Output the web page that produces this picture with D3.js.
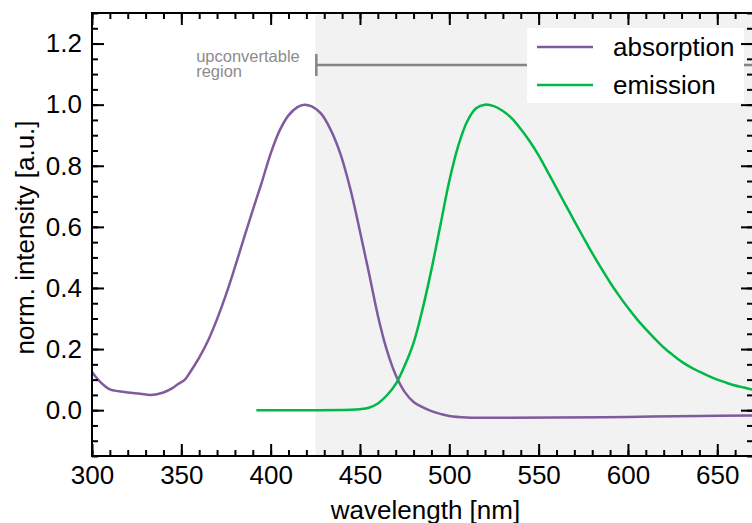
<!DOCTYPE html>
<html>
<head>
<meta charset="utf-8">
<script src="https://cdn.jsdelivr.net/npm/d3@7"></script>
<style>
    body { margin: 0; background: #fff; }
    svg { display: block; font-family: "Liberation Sans", Arial, sans-serif; }
    .axis-label { font-size: 26px; fill: #000; font-family: "Liberation Sans", Arial, sans-serif; }
    .tick text { font-size: 26px; fill: #000; font-family: "Liberation Sans", Arial, sans-serif; }
</style>
</head>
<body>
<div id="chart"></div>
<script>
// absorption spectrum (wavelength nm, normalised intensity)
const absWavelength = [300, 305, 310, 315, 320, 327, 333, 340, 345, 348, 352, 355, 360, 365, 370, 375, 380, 385, 390, 395, 400, 405, 410, 415, 419, 423, 428, 433, 439, 445, 450, 455, 460, 465, 470, 475, 480, 485, 490, 495, 500, 510, 530, 560, 600, 640, 670];
const absIntensity  = [0.125, 0.09, 0.068, 0.062, 0.058, 0.054, 0.05, 0.058, 0.072, 0.085, 0.1, 0.125, 0.172, 0.228, 0.298, 0.378, 0.468, 0.562, 0.655, 0.745, 0.84, 0.915, 0.965, 0.992, 1.0, 0.994, 0.972, 0.925, 0.84, 0.715, 0.585, 0.45, 0.31, 0.197, 0.115, 0.06, 0.027, 0.01, -0.003, -0.012, -0.019, -0.024, -0.025, -0.024, -0.022, -0.019, -0.017];

// emission spectrum
const emWavelength = [392, 420, 445, 450, 455, 460, 465, 470, 475, 480, 485, 490, 495, 500, 505, 510, 515, 520, 525, 530, 535, 540, 545, 550, 555, 560, 565, 570, 575, 580, 585, 590, 595, 600, 605, 610, 615, 620, 625, 630, 635, 640, 645, 650, 655, 660, 665, 670];
const emIntensity  = [0, 0, 0.001, 0.003, 0.008, 0.022, 0.048, 0.085, 0.145, 0.22, 0.33, 0.46, 0.605, 0.75, 0.865, 0.945, 0.988, 1.0, 0.995, 0.979, 0.955, 0.92, 0.88, 0.834, 0.781, 0.727, 0.673, 0.619, 0.566, 0.514, 0.465, 0.418, 0.375, 0.335, 0.298, 0.265, 0.234, 0.205, 0.181, 0.159, 0.141, 0.126, 0.112, 0.1, 0.09, 0.081, 0.074, 0.067];

const seriesNames = ["absorption", "emission"];
const seriesColors = ["#7f5a9e", "#00b845"];

const xTicks = [300, 350, 400, 450, 500, 550, 600, 650];
const yTicks = [0.0, 0.2, 0.4, 0.6, 0.8, 1.0, 1.2];

const upconvStart = 425;     // start of shaded upconvertable region
const bracketLevel = 1.13;

const width = 752;
const height = 523;
const margin = { top: 13, right: -1, bottom: 67, left: 92 };
const innerWidth = width - margin.left - margin.right;
const innerHeight = height - margin.top - margin.bottom;

const svg = d3.select("#chart")
    .append("svg")
    .attr("width", width)
    .attr("height", height);

const innerChart = svg.append("g")
    .attr("transform", `translate(${margin.left},${margin.top})`);

const xScale = d3.scaleLinear().domain([300, 670]).range([0, innerWidth]);
const yScale = d3.scaleLinear().domain([-0.15, 1.3]).range([innerHeight, 0]);

innerChart.append("clipPath")
    .attr("id", "plot-clip")
    .append("rect")
    .attr("width", innerWidth)
    .attr("height", innerHeight);

const plot = innerChart.append("g").attr("clip-path", "url(#plot-clip)");

// shaded region
plot.append("rect")
    .attr("x", xScale(upconvStart))
    .attr("y", 0)
    .attr("width", innerWidth - xScale(upconvStart))
    .attr("height", innerHeight)
    .attr("fill", "#f2f2f2");

// bracket for the upconvertable region
plot.append("line")
    .attr("x1", xScale(upconvStart) + 1)
    .attr("x2", innerWidth)
    .attr("y1", yScale(bracketLevel))
    .attr("y2", yScale(bracketLevel))
    .attr("stroke", "#858585")
    .attr("stroke-width", 2.5);

plot.append("line")
    .attr("x1", xScale(upconvStart) + 1)
    .attr("x2", xScale(upconvStart) + 1)
    .attr("y1", yScale(bracketLevel) - 11)
    .attr("y2", yScale(bracketLevel) + 11)
    .attr("stroke", "#858585")
    .attr("stroke-width", 2.5);

const note = innerChart.append("text")
    .attr("x", xScale(358.3))
    .attr("y", yScale(bracketLevel) - 2.5)
    .attr("fill", "#8c8c8c")
    .style("font-size", "16.5px");
note.append("tspan").text("upconvertable");
note.append("tspan").attr("x", xScale(358.3)).attr("dy", 14.5).text("region");

// spectra
const series = [
    absWavelength.map((w, i) => ({ x: w, y: absIntensity[i] })),
    emWavelength.map((w, i) => ({ x: w, y: emIntensity[i] }))
];

const lineGen = d3.line()
    .x(d => xScale(d.x))
    .y(d => yScale(d.y))
    .curve(d3.curveCatmullRom.alpha(0.5));

plot.selectAll(".spectrum")
    .data(series)
    .join("path")
        .attr("class", "spectrum")
        .attr("d", lineGen)
        .attr("fill", "none")
        .attr("stroke", (d, i) => seriesColors[i])
        .attr("stroke-width", 2.5);

// legend
const legend = innerChart.append("g")
    .attr("transform", `translate(${innerWidth - 226},15)`);

legend.append("rect")
    .attr("width", 217)
    .attr("height", 75)
    .attr("rx", 2)
    .attr("fill", "#fff");

legend.selectAll(".leg-line")
    .data(seriesNames)
    .join("line")
        .attr("x1", 10)
        .attr("x2", 66)
        .attr("y1", (d, i) => 19 + i * 38)
        .attr("y2", (d, i) => 19 + i * 38)
        .attr("stroke", (d, i) => seriesColors[i])
        .attr("stroke-width", 2.5);

legend.selectAll(".leg-text")
    .data(seriesNames)
    .join("text")
        .attr("x", 86)
        .attr("y", (d, i) => 19 + i * 38)
        .attr("dy", "0.35em")
        .style("font-size", "26px")
        .text(d => d);

// axes: major and minor ticks, pointing inward on all four sides
const xMinor = d3.range(300, 671, 10);
const yMinor = d3.range(-0.15, 1.31, 0.05).map(v => Math.round(v * 100) / 100);

const bottomAxis = d3.axisBottom(xScale).tickValues(xTicks).tickSize(-12).tickPadding(10);
const leftAxis = d3.axisLeft(yScale).tickValues(yTicks).tickSize(-12).tickPadding(10)
    .tickFormat(d3.format(".1f"));

innerChart.append("g")
    .attr("class", "x-axis")
    .attr("transform", `translate(0,${innerHeight})`)
    .call(bottomAxis);

innerChart.append("g")
    .attr("class", "y-axis")
    .call(leftAxis);

innerChart.append("g")
    .attr("transform", `translate(0,${innerHeight})`)
    .call(d3.axisBottom(xScale).tickValues(xMinor).tickSize(-6).tickFormat(""));

innerChart.append("g")
    .call(d3.axisLeft(yScale).tickValues(yMinor).tickSize(-6).tickFormat(""));

innerChart.append("g")
    .call(d3.axisTop(xScale).tickValues(xTicks).tickSize(-12).tickFormat(""));
innerChart.append("g")
    .call(d3.axisTop(xScale).tickValues(xMinor).tickSize(-6).tickFormat(""));

innerChart.append("g")
    .attr("transform", `translate(${innerWidth},0)`)
    .call(d3.axisRight(yScale).tickValues(yTicks).tickSize(-12).tickFormat(""));
innerChart.append("g")
    .attr("transform", `translate(${innerWidth},0)`)
    .call(d3.axisRight(yScale).tickValues(yMinor).tickSize(-6).tickFormat(""));

innerChart.selectAll(".domain").remove();
innerChart.selectAll(".tick line")
    .attr("stroke", "#000")
    .attr("stroke-width", 2);

// frame
innerChart.append("rect")
    .attr("width", innerWidth)
    .attr("height", innerHeight)
    .attr("fill", "none")
    .attr("stroke", "#000")
    .attr("stroke-width", 2);

// axis labels
svg.append("text")
    .text("wavelength [nm]")
    .attr("text-anchor", "middle")
    .attr("x", margin.left + innerWidth / 2 + 3)
    .attr("y", 519)
    .attr("class", "axis-label");

svg.append("text")
    .text("norm. intensity [a.u.]")
    .attr("text-anchor", "middle")
    .attr("transform", `translate(34,${margin.top + innerHeight / 2 + 3}) rotate(-90)`)
    .attr("class", "axis-label");
</script>
</body>
</html>
